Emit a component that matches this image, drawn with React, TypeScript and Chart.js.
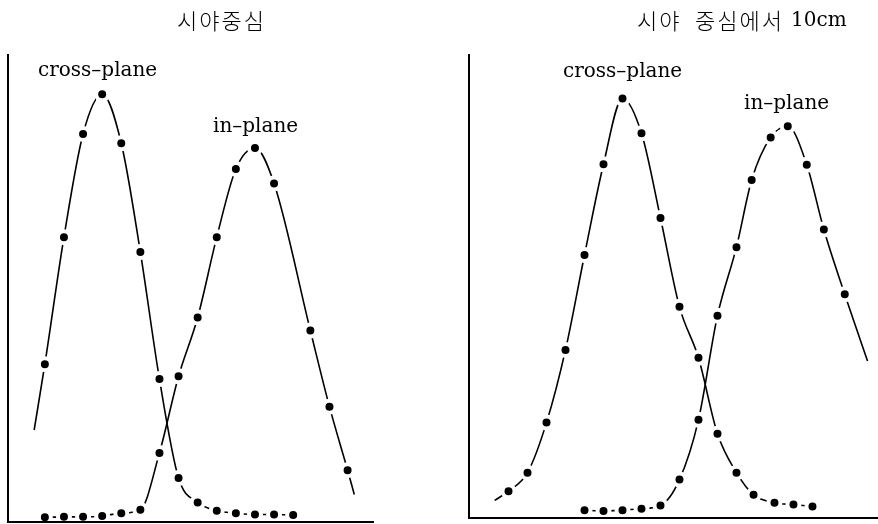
import { useEffect, useRef } from "react";
import { Chart, registerables } from "chart.js";

Chart.register(...registerables);

// ---- 시야중심 (field centre) ----
const centreCrossX = [2, 3, 4, 5, 6, 7, 8, 9, 10, 11, 12, 13, 14, 15];
const centreCrossY = [33.8, 61.0, 83.1, 91.6, 81.1, 57.8, 30.6, 9.4, 4.2, 2.4, 1.9, 1.6, 1.6, 1.5];
const centreCrossLeadX = [1.44];
const centreCrossLeadY = [19.7];

const centreInX = [2, 3, 4, 5, 6, 7, 8, 9, 10, 11, 12, 13, 14, 15.9, 16.9, 17.85];
const centreInY = [1.0, 1.1, 1.1, 1.3, 1.9, 2.6, 14.8, 31.2, 43.8, 61.0, 75.6, 80.1, 72.5, 41.0, 24.7, 11.1];
const centreInTrailX = [18.2];
const centreInTrailY = [5.9];

// ---- 시야 중심에서 10cm (10 cm off centre) ----
const offCrossX = [2, 3, 4, 5, 6, 7, 8, 9, 10, 11, 12, 13, 14, 14.9, 16, 17, 18];
const offCrossY = [5.8, 9.8, 20.6, 36.3, 56.8, 76.4, 90.6, 83.1, 64.8, 45.6, 34.6, 18.2, 9.8, 5.0, 3.3, 2.9, 2.5];
const offCrossLeadX = [1.27];
const offCrossLeadY = [3.8];

const offInX = [6, 7, 8, 9, 10, 11, 12, 13, 14, 14.8, 15.8, 16.7, 17.7, 18.6, 19.7];
const offInY = [1.7, 1.5, 1.7, 2.0, 2.7, 8.3, 21.2, 43.7, 58.5, 73.0, 82.2, 84.6, 76.3, 62.3, 48.3];
const offInTrailX = [20.9];
const offInTrailY = [33.9];

const SERIF = '"DejaVu Serif", "Liberation Serif", serif';
const HANGUL = '"Noto Sans CJK KR", "Noto Sans", sans-serif';

type Pt = { x: number; y: number; dot: boolean };

function curve(
  xs: number[],
  ys: number[],
  leadX: number[] = [],
  leadY: number[] = [],
  trailX: number[] = [],
  trailY: number[] = []
): Pt[] {
  const pts: Pt[] = [];
  leadX.forEach((x, i) => pts.push({ x, y: leadY[i], dot: false }));
  xs.forEach((x, i) => pts.push({ x, y: ys[i], dot: true }));
  trailX.forEach((x, i) => pts.push({ x, y: trailY[i], dot: false }));
  return pts;
}

type Caption = { text: string; x: number; y: number; font: string; spacing?: string };

type PanelSpec = {
  left: number;
  width: number;
  padding: { left: number; right: number; top: number; bottom: number };
  xMin: number;
  xMax: number;
  series: Pt[][];
  captions: Caption[];
};

const captionPlugin = (captions: Caption[]) => ({
  id: "captions",
  afterDraw(chart: Chart) {
    const ctx = chart.ctx;
    ctx.save();
    ctx.fillStyle = "#000";
    ctx.textAlign = "left";
    ctx.textBaseline = "alphabetic";
    for (const c of captions) {
      ctx.font = c.font;
      (ctx as any).letterSpacing = c.spacing ?? "0px";
      ctx.fillText(c.text, c.x, c.y);
    }
    ctx.restore();
  },
});

const axisStyle = {
  type: "linear" as const,
  grid: { display: false, drawTicks: false },
  ticks: { display: false },
  border: { display: true, color: "#000", width: 2, z: 1 },
};

function Panel({ spec }: { spec: PanelSpec }) {
  const ref = useRef<HTMLCanvasElement>(null);

  useEffect(() => {
    const chart = new Chart(ref.current!, {
      type: "line",
      data: {
        datasets: spec.series.map((pts) => ({
          data: pts,
          borderColor: "#000",
          borderWidth: 1.6,
          cubicInterpolationMode: "monotone" as const,
          pointBackgroundColor: "#000",
          pointBorderColor: "#fff",
          pointBorderWidth: 4,
          pointRadius: (c: any) => (c.raw && c.raw.dot ? 6 : 0),
          fill: false,
        })),
      },
      options: {
        animation: false,
        responsive: false,
        maintainAspectRatio: false,
        events: [],
        layout: { padding: spec.padding, autoPadding: false },
        plugins: {
          legend: { display: false },
          tooltip: { enabled: false },
          title: { display: false },
        },
        scales: {
          x: { ...axisStyle, min: spec.xMin, max: spec.xMax },
          y: { ...axisStyle, min: 0, max: 100 },
        },
      },
      plugins: [captionPlugin(spec.captions)],
    });
    return () => chart.destroy();
  }, [spec]);

  return (
    <canvas
      ref={ref}
      width={spec.width}
      height={524}
      style={{ position: "absolute", left: spec.left, top: 0, width: spec.width, height: 524 }}
    />
  );
}

const centrePanel: PanelSpec = {
  left: 0,
  width: 440,
  padding: { left: 8, right: 67, top: 55, bottom: 2 },
  xMin: 0.07,
  xMax: 19.18,
  series: [
    curve(centreCrossX, centreCrossY, centreCrossLeadX, centreCrossLeadY),
    curve(centreInX, centreInY, [], [], centreInTrailX, centreInTrailY),
  ],
  captions: [
    { text: "시야중심", x: 177, y: 29, font: `300 22px ${HANGUL}`, spacing: "2px" },
    { text: "cross–plane", x: 38, y: 76, font: `20px ${SERIF}` },
    { text: "in–plane", x: 213, y: 132, font: `20px ${SERIF}` },
  ],
};

const offPanel: PanelSpec = {
  left: 440,
  width: 438,
  padding: { left: 29, right: 0, top: 55, bottom: 6 },
  xMin: -0.08,
  xMax: 21.45,
  series: [
    curve(offCrossX, offCrossY, offCrossLeadX, offCrossLeadY),
    curve(offInX, offInY, [], [], offInTrailX, offInTrailY),
  ],
  captions: [
    { text: "시야", x: 197, y: 28.5, font: `300 22px ${HANGUL}`, spacing: "2px" },
    { text: "중심에서", x: 255, y: 28.5, font: `300 22px ${HANGUL}`, spacing: "2px" },
    { text: "10cm", x: 351, y: 25.5, font: `20px ${SERIF}` },
    { text: "cross–plane", x: 123, y: 77, font: `20px ${SERIF}` },
    { text: "in–plane", x: 304, y: 109, font: `20px ${SERIF}` },
  ],
};

export default function App() {
  return (
    <div style={{ position: "fixed", left: 0, top: 0, width: 878, height: 524, background: "#fff" }}>
      <Panel spec={centrePanel} />
      <Panel spec={offPanel} />
    </div>
  );
}
